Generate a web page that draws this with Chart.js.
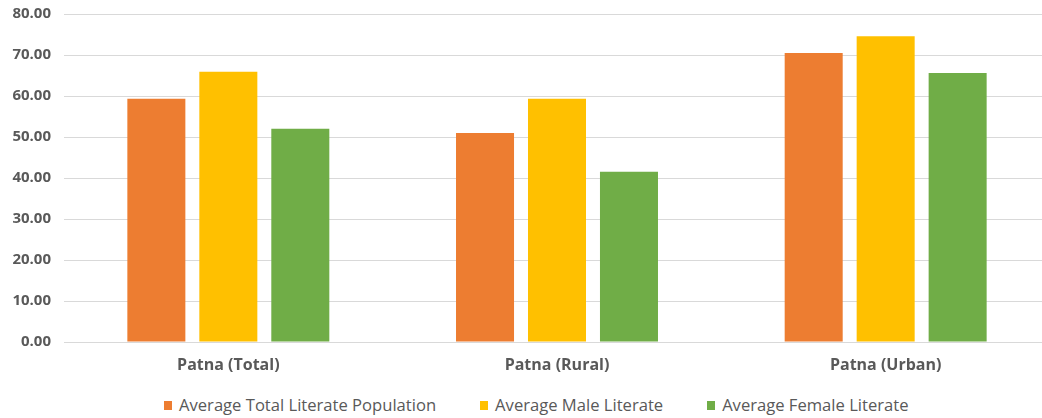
<!DOCTYPE html>
<html>
<head>
<meta charset="utf-8">
<script src="https://cdn.jsdelivr.net/npm/chart.js@4/dist/chart.umd.min.js"></script>
<style>
  html, body { margin: 0; padding: 0; background: #fff; overflow: hidden; }
  #wrap { width: 1050px; height: 394px; position: relative; margin-top: -8px; }
  #legend {
    position: absolute; left: 164px; top: 394px;
    display: flex; align-items: center; margin: 0; padding: 0; list-style: none;
    font-family: 'Open Sans', sans-serif; font-size: 16.6px; color: #595959; white-space: nowrap;
  }
  #legend li { display: flex; align-items: center; margin-right: 44px; line-height: 22px; }
  #legend .sw { display: inline-block; width: 8px; height: 9px; margin-right: 7px; }
</style>
</head>
<body>
<div id="wrap"><canvas id="chart"></canvas></div>
<ul id="legend"></ul>
<script>
// literacy averages for Patna district, in percent
const categories = ['Patna (Total)', 'Patna (Rural)', 'Patna (Urban)'];
const totalLiterate = [59.3, 51.0, 70.5];
const maleLiterate = [65.9, 59.3, 74.6];
const femaleLiterate = [52.0, 41.5, 65.6];
const yTicks = [0, 10, 20, 30, 40, 50, 60, 70, 80];

const grey = '#595959';
const font = "'Open Sans', sans-serif";

function series(label, data, color) {
  return {
    label,
    data,
    backgroundColor: color,
    borderWidth: 0,
    barPercentage: 0.806,
    categoryPercentage: 0.657,
  };
}

// legend as plain html list under the canvas
const htmlLegend = {
  id: 'htmlLegend',
  afterUpdate(chart) {
    const ul = document.getElementById('legend');
    ul.innerHTML = chart.data.datasets
      .map((ds) => `<li><span class="sw" style="background:${ds.backgroundColor}"></span>${ds.label}</li>`)
      .join('');
  },
};

new Chart(document.getElementById('chart'), {
  type: 'bar',
  data: {
    labels: categories,
    datasets: [
      series('Average Total Literate Population', totalLiterate, '#ED7D31'),
      series('Average Male Literate', maleLiterate, '#FFC000'),
      series('Average Female Literate', femaleLiterate, '#70AD47'),
    ],
  },
  plugins: [htmlLegend],
  options: {
    responsive: true,
    maintainAspectRatio: false,
    animation: false,
    layout: { padding: 0 },
    plugins: {
      tooltip: { enabled: false },
      legend: { display: false },
    },
    scales: {
      x: {
        grid: { display: false },
        border: { display: false },
        ticks: { color: grey, font: { family: font, size: 16, weight: 'bold' }, padding: 6 },
        afterFit(scale) {
          scale.height = 44;
        },
      },
      y: {
        min: yTicks[0],
        max: yTicks[yTicks.length - 1],
        afterBuildTicks(scale) {
          scale.ticks = yTicks.map((v) => ({ value: v }));
        },
        afterFit(scale) {
          scale.width = 64;
        },
        grid: { color: '#d9d9d9', drawTicks: false },
        border: { display: false },
        ticks: {
          color: grey,
          font: { family: font, size: 15, weight: 'bold' },
          padding: 13,
          callback: (v) => Number(v).toFixed(2),
        },
      },
    },
  },
});
</script>
</body>
</html>
